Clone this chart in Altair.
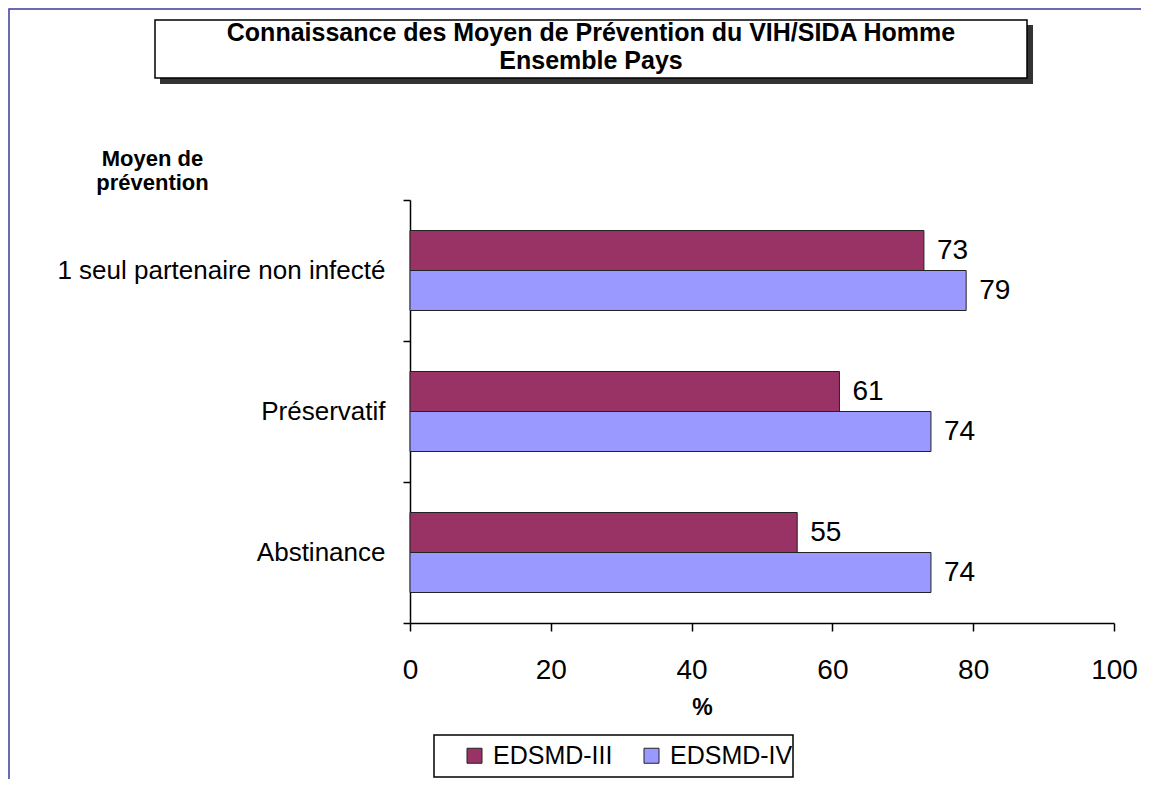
import altair as alt
import pandas as pd

categories = ["1 seul partenaire non infecté", "Préservatif", "Abstinance"]
series = ["EDSMD-III", "EDSMD-IV"]
values_iii = [73, 61, 55]
values_iv = [79, 74, 74]
colors = ["#993366", "#9999FF"]
x_ticks = [0, 20, 40, 60, 80, 100]
title_lines = ["Connaissance des Moyen de Prévention du VIH/SIDA Homme", "Ensemble Pays"]

rows = []
for c, a, b in zip(categories, values_iii, values_iv):
    rows.append({"cat": c, "serie": series[0], "val": a})
    rows.append({"cat": c, "serie": series[1], "val": b})
df = pd.DataFrame(rows)

FONT = "Liberation Sans"
one = alt.Data(values=[{"k": 1}])

y_enc = alt.Y("cat:N", sort=categories,
              scale=alt.Scale(paddingInner=0, paddingOuter=0),
              axis=alt.Axis(title=["Moyen de", "prévention"], titleAngle=0,
                            titleX=-258, titleY=-35, titleAlign="center",
                            titleBaseline="alphabetic", titleFontSize=22,
                            titleFontWeight="bold", titleLineHeight=24,
                            titleFont=FONT, titleColor="black",
                            labelFont=FONT, labelFontSize=26, labelColor="black",
                            labelPadding=18, tickSize=7, tickBand="extent",
                            tickColor="black", tickWidth=1.5,
                            domainColor="black", domainWidth=1.5,
                            labelLimit=500))
yoff_enc = alt.YOffset("serie:N", sort=series,
                       scale=alt.Scale(paddingInner=0, paddingOuter=0.7625))
x_enc = alt.X("val:Q", scale=alt.Scale(domain=[0, 100], nice=False),
              axis=alt.Axis(values=x_ticks, title="%", titleX=292, titleY=91,
                            titleAlign="center", titleBaseline="alphabetic",
                            titleFontSize=23, titleFontWeight="bold",
                            titleFont=FONT, titleColor="black",
                            labelFont=FONT, labelFontSize=28, labelColor="black",
                            labelPadding=25, labelFlush=False, labelOverlap=False,
                            tickSize=8, tickColor="black", tickWidth=1.5,
                            domainColor="black", domainWidth=1.5, grid=False))

bars = alt.Chart(df).mark_bar(stroke="#222222", strokeWidth=1).encode(
    y=y_enc, yOffset=yoff_enc, x=x_enc,
    color=alt.Color("serie:N", sort=series,
                    scale=alt.Scale(domain=series, range=colors),
                    legend=alt.Legend(orient="none", legendX=52, legendY=543,
                                      direction="horizontal", columns=2,
                                      title=None, labelFont=FONT, labelFontSize=25,
                                      labelColor="black", symbolType="square",
                                      symbolSize=225, symbolStrokeColor="#222222",
                                      symbolStrokeWidth=1, labelOffset=6,
                                      columnPadding=26, padding=0, labelLimit=400))
)

labels = alt.Chart(df).mark_text(align="left", baseline="middle", dx=13,
                                 font=FONT, fontSize=28, color="black").encode(
    y=alt.Y("cat:N", sort=categories), yOffset=yoff_enc,
    x=alt.X("val:Q"), text=alt.Text("val:Q")
)

frame = alt.Chart(one).mark_rect(fill="transparent", stroke="#3a3aa0", strokeWidth=1.5).encode(
    x=alt.value(-401), x2=alt.value(900), y=alt.value(-191), y2=alt.value(900))
shadow = alt.Chart(one).mark_rect(fill="#333333").encode(
    x=alt.value(-250), x2=alt.value(623), y=alt.value(-175), y2=alt.value(-116))
tbox = alt.Chart(one).mark_rect(fill="white", stroke="black", strokeWidth=1.5).encode(
    x=alt.value(-255), x2=alt.value(617), y=alt.value(-180), y2=alt.value(-122))
t1 = alt.Chart(one).mark_text(text=title_lines[0], font=FONT, fontSize=25,
                              fontWeight="bold", color="black", align="center",
                              baseline="middle").encode(x=alt.value(181), y=alt.value(-167))
t2 = alt.Chart(one).mark_text(text=title_lines[1], font=FONT, fontSize=25,
                              fontWeight="bold", color="black", align="center",
                              baseline="middle").encode(x=alt.value(181), y=alt.value(-139))
lbox = alt.Chart(one).mark_rect(fill="transparent", stroke="black", strokeWidth=1.5).encode(
    x=alt.value(24), x2=alt.value(383), y=alt.value(535), y2=alt.value(577))

chart = alt.layer(frame, shadow, tbox, t1, t2, bars, labels, lbox).properties(
    width=704, height=423,
    padding={"left": 402, "top": 192, "right": 27, "bottom": 156},
    autosize=alt.AutoSizeParams(type="none"),
).configure_view(stroke=None)

chart.save("out.html", embed_options={"renderer": "svg", "actions": False})
